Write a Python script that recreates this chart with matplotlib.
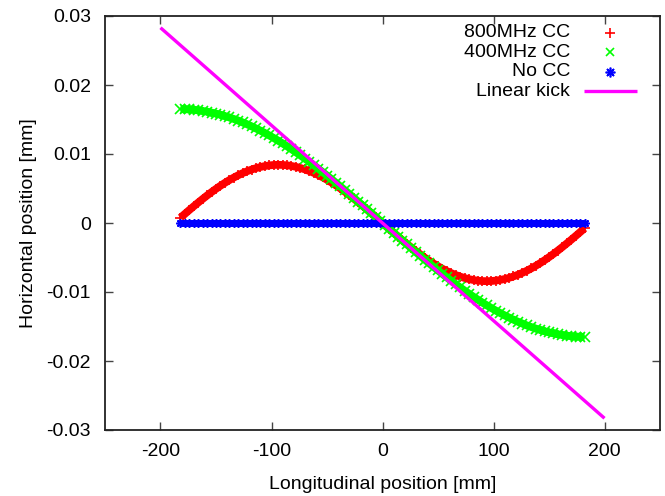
import matplotlib
matplotlib.use("Agg")
import matplotlib.pyplot as plt

plt.rcParams['font.family'] = ['Liberation Sans', 'DejaVu Sans']

# Longitudinal positions of the sampled particles [mm]
z_mm = [-182, -178, -174, -170, -166, -162, -158, -154, -150, -146, -142, -138,
        -134, -130, -126, -122, -118, -114, -110, -106, -102, -98, -94, -90,
        -86, -82, -78, -74, -70, -66, -62, -58, -54, -50, -46, -42, -38, -34,
        -30, -26, -22, -18, -14, -10, -6, -2,
        2, 6, 10, 14, 18, 22, 26, 30, 34, 38, 42, 46, 50, 54, 58, 62, 66, 70,
        74, 78, 82, 86, 90, 94, 98, 102, 106, 110, 114, 118, 122, 126, 130, 134,
        138, 142, 146, 150, 154, 158, 162, 166, 170, 174, 178, 182]

cc800 = [0.000768, 0.001329, 0.001884, 0.002430, 0.002965, 0.003487, 0.003993, 0.004482,
         0.004950, 0.005396, 0.005818, 0.006213, 0.006581, 0.006919, 0.007226, 0.007501,
         0.007742, 0.007948, 0.008118, 0.008252, 0.008349, 0.008408, 0.008430, 0.008414,
         0.008359, 0.008268, 0.008139, 0.007974, 0.007772, 0.007536, 0.007266, 0.006964,
         0.006630, 0.006266, 0.005874, 0.005456, 0.005013, 0.004548, 0.004062, 0.003558,
         0.003038, 0.002505, 0.001960, 0.001406, 0.000846, 0.000283,
         -0.000283, -0.000846, -0.001406, -0.001960, -0.002505, -0.003038, -0.003558, -0.004062,
         -0.004548, -0.005013, -0.005456, -0.005874, -0.006266, -0.006630, -0.006964, -0.007266,
         -0.007536, -0.007772, -0.007974, -0.008139, -0.008268, -0.008359, -0.008414, -0.008430,
         -0.008408, -0.008349, -0.008252, -0.008118, -0.007948, -0.007742, -0.007501, -0.007226,
         -0.006919, -0.006581, -0.006213, -0.005818, -0.005396, -0.004950, -0.004482, -0.003993,
         -0.003487, -0.002965, -0.002430, -0.001884, -0.001329, -0.000768]

cc400 = [0.016500, 0.016487, 0.016454, 0.016402, 0.016331, 0.016240, 0.016131, 0.016002,
         0.015854, 0.015687, 0.015502, 0.015298, 0.015077, 0.014837, 0.014580, 0.014306,
         0.014015, 0.013707, 0.013383, 0.013043, 0.012688, 0.012317, 0.011933, 0.011534,
         0.011121, 0.010695, 0.010257, 0.009806, 0.009344, 0.008871, 0.008387, 0.007893,
         0.007390, 0.006878, 0.006358, 0.005831, 0.005297, 0.004756, 0.004210, 0.003659,
         0.003103, 0.002544, 0.001982, 0.001417, 0.000851, 0.000284,
         -0.000284, -0.000851, -0.001417, -0.001982, -0.002544, -0.003103, -0.003659, -0.004210,
         -0.004756, -0.005297, -0.005831, -0.006358, -0.006878, -0.007390, -0.007893, -0.008387,
         -0.008871, -0.009344, -0.009806, -0.010257, -0.010695, -0.011121, -0.011534, -0.011933,
         -0.012317, -0.012688, -0.013043, -0.013383, -0.013707, -0.014015, -0.014306, -0.014580,
         -0.014837, -0.015077, -0.015298, -0.015502, -0.015687, -0.015854, -0.016002, -0.016131,
         -0.016240, -0.016331, -0.016402, -0.016454, -0.016487, -0.016500]

no_cc = [0.0] * len(z_mm)

linear_z = [-200, 200]
linear_kick = [0.0283, -0.0283]

labels = ["800MHz CC", "400MHz CC", "No CC", "Linear kick"]
xticks = [-200, -100, 0, 100, 200]
yticks = [-0.03, -0.02, -0.01, 0, 0.01, 0.02, 0.03]
ytick_labels = ["-0.03", "-0.02", "-0.01", "0", "0.01", "0.02", "0.03"]

FS = 14
W, H = 665, 496
fig = plt.figure(figsize=(W / 100, H / 100), dpi=100)
ax = fig.add_axes([105 / W, 66 / H, 555 / W, 414 / H])

star = (8, 2, 0)
RED, GREEN, BLUE, MAG = '#ff0000', '#00ff00', '#0000ff', '#ff00ff'
# dense particle bands: thick trace through the samples plus the point symbols
ax.plot(z_mm, cc800, linestyle='-', linewidth=5.6, marker='+', color=RED,
        markersize=7, markeredgewidth=1.2, solid_capstyle='butt')
ax.plot(z_mm, cc400, linestyle='-', linewidth=5.6, marker='x', color=GREEN,
        markersize=6.5, markeredgewidth=1.2, solid_capstyle='butt')
ax.plot(z_mm, no_cc, linestyle='-', linewidth=5.0, marker=star, color=BLUE,
        markersize=6, markeredgewidth=1.2, solid_capstyle='butt')
ax.plot(linear_z, linear_kick, color=MAG, linewidth=2.4, solid_capstyle='butt')

ax.set_xlim(-250, 250)
ax.set_ylim(-0.03, 0.03)
ax.set_xticks(xticks)
ax.set_xticklabels([str(t) for t in xticks])
ax.set_yticks(yticks)
ax.set_yticklabels(ytick_labels)
ax.tick_params(direction='in', length=6, width=1, color='#444444', top=True, right=True,
               labelsize=FS, pad=9)
ax.tick_params(axis='y', pad=10)
for s in ax.spines.values():
    s.set_linewidth(1.3)
    s.set_color('#222222')

ax.set_xlabel("Longitudinal position [mm]", fontsize=FS, labelpad=12)
ax.set_ylabel("Horizontal position [mm]", fontsize=FS, labelpad=7)

# legend (gnuplot style: right-aligned text, sample to the right)
def ax_x(px):
    return (px - 105) / 555

def ax_y(py):
    return (430 - py) / 414

rows = [32.7, 52.2, 71.6, 91.0]
tx = ax_x(570)
mx = ax_x(610)
styles = [dict(marker='+', color=RED, markersize=7, markeredgewidth=1.2),
          dict(marker='x', color=GREEN, markersize=6, markeredgewidth=1.2),
          dict(marker=star, color=BLUE, markersize=7, markeredgewidth=1.2)]
for i, lab in enumerate(labels):
    ax.text(tx, ax_y(rows[i]), lab, transform=ax.transAxes, ha='right', va='center',
            fontsize=FS)
    if i < 3:
        ax.plot([mx], [ax_y(rows[i])], transform=ax.transAxes, linestyle='none',
                clip_on=False, **styles[i])
    else:
        ax.plot([ax_x(584), ax_x(637)], [ax_y(rows[i])] * 2, transform=ax.transAxes,
                color=MAG, linewidth=2.4, clip_on=False, solid_capstyle='butt')

fig.savefig("out.png", dpi=100)
